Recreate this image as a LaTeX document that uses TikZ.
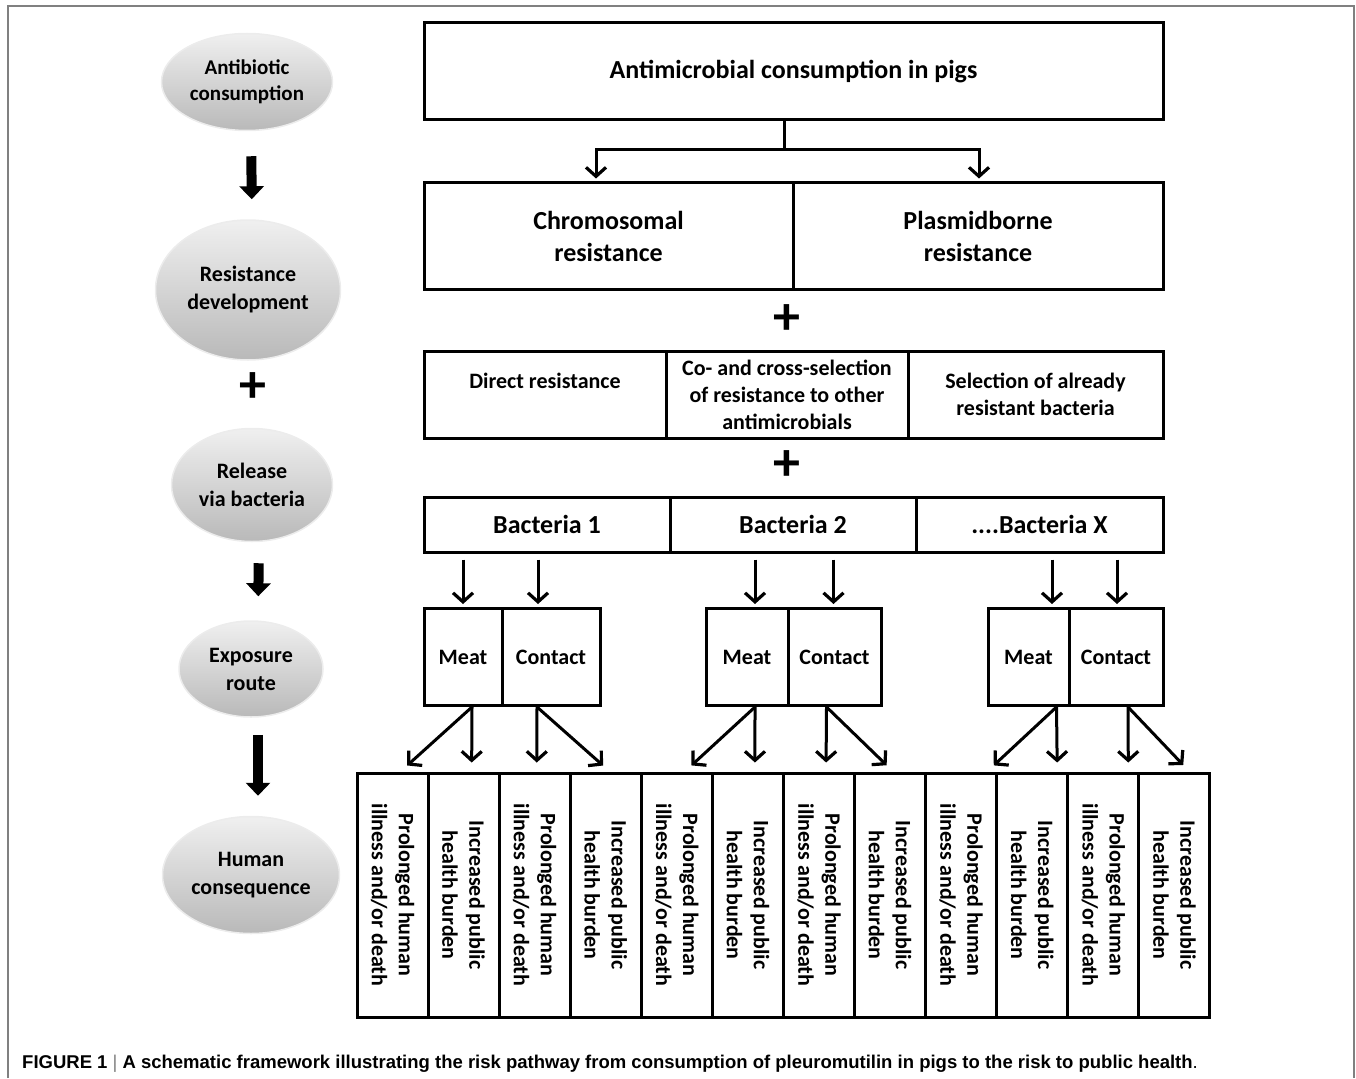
\documentclass[tikz,border=0pt]{standalone}
\usepackage{fontspec}
\setmainfont{Carlito}
\newfontfamily\capfont{Liberation Sans}
\usetikzlibrary{shapes.geometric,arrows.meta}

\newcommand{\fbig}{\fontsize{26}{32}\selectfont\bfseries}
\newcommand{\fmid}{\fontsize{22}{27}\selectfont\bfseries}

\tikzset{
  stage/.style={ellipse, inner sep=0pt, align=center, top color=gray!12, bottom color=gray!55,
                draw=gray!15, line width=1.5pt, font=\fontsize{22}{28}\selectfont\bfseries},
  cell/.style={draw, line width=3pt, align=center, inner sep=0pt, font=\fmid},
  arr/.style={line width=3pt, -{Straight Barb[length=9pt,width=20pt,line width=3.2pt]}},
  bigarr/.style={line width=10pt, -{Triangle[length=13pt,width=24pt]}},
  plus/.style={inner sep=0pt, font=\fontsize{54}{54}\selectfont\bfseries},
}

\begin{document}
\begin{tikzpicture}[x=1pt,y=-1pt]
  \useasboundingbox (0,0) rectangle (1356,1078);
  \draw[gray, line width=2pt] (8,1078) -- (8,6) -- (1354,6) -- (1354,1078);

  % left column
  \node[stage, minimum width=171pt, minimum height=97pt, font=\fontsize{21}{26}\selectfont\bfseries] (antib) at (247,82) {Antibiotic\\consumption};
  \node[stage, minimum width=185pt, minimum height=140pt] (resdev) at (248,290) {Resistance\\development};
  \node[plus] (plusl) at (253,388) {+};
  \node[stage, minimum width=161pt, minimum height=113pt] (relbac) at (252,485) {Release\\via bacteria};
  \node[stage, minimum width=144pt, minimum height=96pt] (expo) at (251,669) {Exposure\\route};
  \node[stage, minimum width=177pt, minimum height=117pt] (human) at (251,875) {Human\\consequence};

  \draw[bigarr, shorten <=25pt, shorten >=20pt] ([xshift=4pt]antib.south) -- ([xshift=4pt]resdev.north);
  \draw[bigarr, shorten <=21pt, shorten >=24pt] ([xshift=7pt]relbac.south) -- ([xshift=7pt]expo.north);
  \draw[bigarr, shorten <=17pt, shorten >=20pt] ([xshift=7pt]expo.south) -- ([xshift=7pt]human.north);

  % right column
  \node[cell, minimum width=739pt, minimum height=97pt, font=\fbig] (pigs) at (793.5,71.5) {Antimicrobial consumption in pigs};
  \node[cell, minimum width=369pt, minimum height=106pt, font=\fbig] (chrom) at (608.5,236) {Chromosomal\\resistance};
  \node[cell, minimum width=370pt, minimum height=106pt, font=\fbig] (plasm) at (978,236) {Plasmidborne\\resistance};
  \draw[line width=3pt] ([xshift=-9.5pt]pigs.south) -- ++(0,28) coordinate (split);
  \draw[arr, shorten >=3pt] (split) -| ([xshift=-12.5pt]chrom.north);
  \draw[arr, shorten >=3pt] (split) -| ([xshift=1pt]plasm.north);

  \node[plus] (plus1) at (787,320) {+};
  \node[cell, minimum width=242pt, minimum height=87pt] (direct) at (545,394.5) {Direct resistance\\\mbox{}};
  \node[cell, minimum width=242pt, minimum height=87pt] (cosel) at (787,394.5) {Co- and cross-selection\\of resistance to other\\antimicrobials};
  \node[cell, minimum width=255pt, minimum height=87pt] (selres) at (1035.5,394.5) {Selection of already\\resistant bacteria};

  \node[plus] (plus2) at (787,466) {+};
  \node[cell, minimum width=246pt, minimum height=55pt, font=\fbig] (bac1) at (547,524.5) {Bacteria 1};
  \node[cell, minimum width=246pt, minimum height=55pt, font=\fbig] (bac2) at (793,524.5) {Bacteria 2};
  \node[cell, minimum width=247pt, minimum height=55pt, font=\fbig] (bacx) at (1039.5,524.5) {....Bacteria X};

  \node[cell, minimum width=78pt, minimum height=97pt] (meat1) at (463,657) {Meat};
  \node[cell, minimum width=98pt, minimum height=97pt] (cont1) at (551,657) {Contact};
  \node[cell, minimum width=82pt, minimum height=97pt] (meat2) at (747,657) {Meat};
  \node[cell, minimum width=93pt, minimum height=97pt] (cont2) at (834.5,657) {Contact};
  \node[cell, minimum width=81pt, minimum height=97pt] (meat3) at (1028.5,657) {Meat};
  \node[cell, minimum width=94pt, minimum height=97pt] (cont3) at (1116,657) {Contact};

  \foreach \bac/\dst/\dx in {bac1/meat1/0, bac1/cont1/-13, bac2/meat2/8, bac2/cont2/-1, bacx/meat3/23.5, bacx/cont3/1}
    \draw[arr, shorten <=6pt, shorten >=3pt] ([xshift=\dx pt]\dst.north |- \bac.south) -- ([xshift=\dx pt]\dst.north);

  % consequences
  \foreach \i in {1,...,12} {
    \node[cell, minimum width=71.08pt, minimum height=244pt] (c\i) at ({357+71.08*(\i-0.5)},895) {};
    \ifodd\i
      \node[rotate=-90, align=center, inner sep=0pt, font=\fmid] at (c\i) {Prolonged human\\illness and/or death};
    \else
      \node[rotate=-90, align=center, inner sep=0pt, font=\fmid] at (c\i) {Increased public\\health burden};
    \fi
  }

  \foreach \src/\sx/\dst/\dx in {meat1/9/c1/8, meat1/9/c2/8, cont1/-14/c3/2, cont1/-14/c4/4,
                                 meat2/8/c5/8, meat2/8/c6/7, cont2/-8/c7/7, cont2/-8/c8/3,
                                 meat3/28/c9/26, meat3/28/c10/25, cont3/12/c11/25, cont3/12/c12/15}
    \draw[arr, shorten >=9pt] ([xshift=\sx pt]\src.south) -- ([xshift=\dx pt]\dst.north);

  \node[anchor=west, inner sep=0pt, font=\capfont\fontsize{18.5}{20}\selectfont\bfseries] (caption) at (22,1064)
    {FIGURE 1 \textcolor{gray}{\mdseries|} A schematic framework illustrating the risk pathway from consumption of pleuromutilin in pigs to the risk to public health\mdseries.};
\end{tikzpicture}
\end{document}
